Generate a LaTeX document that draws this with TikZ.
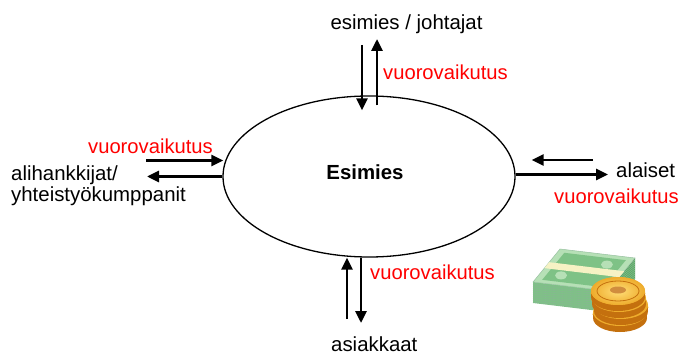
\documentclass[tikz,border=0pt]{standalone}
\usepackage{fontspec}
\setmainfont{Liberation Sans}
\usetikzlibrary{calc}
\usetikzlibrary{arrows.meta}
\usetikzlibrary{shapes.geometric}

\definecolor{setelivaalea}{RGB}{182,224,182}
\definecolor{seteli}{RGB}{126,194,134}
\definecolor{setelitumma}{RGB}{84,152,98}
\definecolor{nauha}{RGB}{246,242,196}
\definecolor{kultavaalea}{RGB}{255,222,120}
\definecolor{kulta}{RGB}{238,172,44}
\definecolor{kultatumma}{RGB}{196,112,14}

\begin{document}
\begin{tikzpicture}[x=1pt, y=-1pt,
  teksti/.style={font=\fontsize{20.4}{21}\selectfont, inner sep=0pt},
  vv/.style={font=\fontsize{20.2}{21}\selectfont, text=red, inner sep=0pt},
  nuoli/.style={line width=2.8pt, -{Triangle[length=12pt, width=11pt]}}]

\path[use as bounding box, fill=white] (0,0) rectangle (679,355);

\node[draw, ellipse, line width=1.3pt, minimum width=292pt, minimum height=161pt, inner sep=0pt] (esimies) at (369,176.5) {};
\node[teksti, font=\fontsize{20.4}{21}\selectfont\bfseries, anchor=base] (otsikko) at (365,180) {Esimies};

% ylos
\node[teksti, anchor=base] (johtajat) at (406.5,30) {esimies / johtajat};
\node[vv, anchor=base west] (vv1) at (383,80) {vuorovaikutus};
\coordinate (ylos1) at (362,45);
\coordinate (ylos2) at (377,39);
\draw[nuoli] (ylos1) -- ($(esimies.north)+(-7,15)$);
\draw[nuoli] ($(esimies.north)+(8,10)$) -- (ylos2);

% vasen
\node[vv, anchor=base east] (vv2) at (213,154) {vuorovaikutus};
\node[teksti, anchor=north west, align=left] (alihankkijat) at (11,166) {alihankkijat/\\yhteistyökumppanit};
\coordinate (vasen1) at (146,160.5);
\coordinate (vasen2) at (147,176.5);
\draw[nuoli] (vasen1) -- ($(esimies.west)+(1,-16)$);
\draw[nuoli] (esimies.west) -- (vasen2);

% oikea
\node[teksti, anchor=base west] (alaiset) at (616,178) {alaiset};
\node[vv, anchor=base west] (vv3) at (554,204) {vuorovaikutus};
\coordinate (oikea1) at (593,160);
\coordinate (oikea2) at (608,174.5);
\draw[nuoli] (oikea1) -- ($(esimies.east)+(16,-16.5)$);
\draw[nuoli] ($(esimies.east)+(0,-2)$) -- (oikea2);

% alas
\node[vv, anchor=base west] (vv4) at (370,279) {vuorovaikutus};
\node[teksti, anchor=base west] (asiakkaat) at (331,351) {asiakkaat};
\coordinate (alas1) at (347,319);
\coordinate (alas2) at (361,323);
\draw[nuoli] (alas1) -- ($(esimies.south)+(-22,0)$);
\draw[nuoli] ($(esimies.south)+(-8,0)$) -- (alas2);

% setelinippu
\coordinate (L) at (533,282);
\coordinate (B) at (560,249);
\coordinate (R) at (635,258);
\coordinate (F) at (608,291);
\coordinate (C) at ($(L)!.5!(R)$);
\fill[seteli] (L) -- (F) -- ($(F)+(0,21)$) -- ($(L)+(0,21)$) -- cycle;
\foreach \s in {2,4,...,20} \draw[setelitumma!70, line width=.6pt] ($(L)+(0,\s)$) -- ($(F)+(0,\s)$);
\fill[setelitumma] (F) -- (R) -- ($(R)+(0,21)$) -- ($(F)+(0,21)$) -- cycle;
\foreach \s in {2,4,...,20} \draw[seteli, line width=.6pt] ($(F)+(0,\s)$) -- ($(R)+(0,\s)$);
\fill[setelivaalea, draw=setelitumma!60, line width=.5pt] (L) -- (B) -- (R) -- (F) -- cycle;
\fill[seteli] ($(C)!.82!(L)$) -- ($(C)!.82!(B)$) -- ($(C)!.82!(R)$) -- ($(C)!.82!(F)$) -- cycle;
\fill[setelivaalea] ($(C)!.45!(L)$) ellipse (6 and 4);
\fill[setelivaalea] ($(C)!.45!(R)$) ellipse (6 and 4);
\fill[nauha] ($(L)!.42!(B)$) -- ($(F)!.42!(R)$) -- ($(F)!.6!(R)$) -- ($(L)!.6!(B)$) -- cycle;

% kolikot
\foreach \x/\cy in {620/312, 621/305, 619/298, 618/291} {
  \fill[kultatumma] (\x,\cy+6) ellipse (27 and 14);
  \fill[kultatumma] (\x-27,\cy) rectangle (\x+27,\cy+6);
  \draw[kulta, line width=.8pt] (\x-27,\cy+3) arc (180:360:27 and 14);
  \fill[kulta] (\x,\cy) ellipse (27 and 14);
}
\shade[inner color=kultavaalea, outer color=kulta] (618,291) ellipse (27 and 14);
\draw[kultatumma, line width=.8pt] (618,291) ellipse (21 and 10);
\fill[kultatumma!80] (618,290) ellipse (8 and 3.5);

\end{tikzpicture}
\end{document}
